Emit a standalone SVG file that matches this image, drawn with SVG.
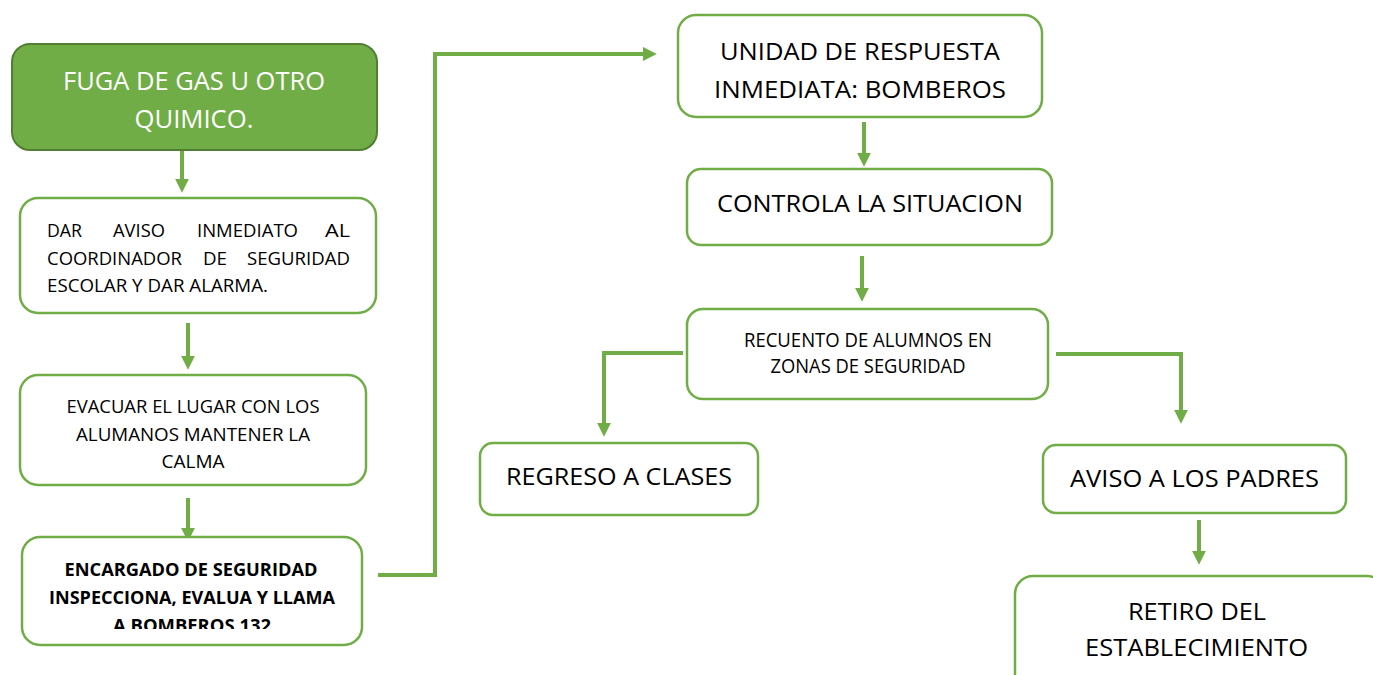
<svg xmlns="http://www.w3.org/2000/svg" width="1373" height="675" viewBox="0 0 1373 675">
<style>
.box{fill:#fff;stroke:#70AD47;stroke-width:2.5}
.main{fill:#70AD47;stroke:#507E32;stroke-width:2}
.t{font-family:"Open Sans","Liberation Sans",sans-serif;fill:#000;text-anchor:middle}
.tl{font-family:"Open Sans","Liberation Sans",sans-serif;fill:#000}
.w{fill:#fff}
.b{font-weight:bold}
.c{fill:none;stroke:#70AD47;stroke-width:4}
</style>
<defs>
<marker id="ah" viewBox="0 0 10 10" refX="3" refY="5" markerWidth="3.5" markerHeight="3.5" orient="auto">
<path d="M0,0 L10,5 L0,10 z" fill="#70AD47"/>
</marker>
<clipPath id="clip4"><rect x="0" y="530" width="400" height="99"/></clipPath>
</defs>
<rect width="1373" height="675" fill="#fff"/>
<g id="connectors">
<path class="c" d="M182,151 V183" marker-end="url(#ah)"/>
<path class="c" d="M188,323 V360" marker-end="url(#ah)"/>
<path class="c" d="M188,498 V532" marker-end="url(#ah)"/>
<path class="c" d="M378,575 H435 V54 H647" marker-end="url(#ah)"/>
<path class="c" d="M864,122 V157" marker-end="url(#ah)"/>
<path class="c" d="M862,256 V292" marker-end="url(#ah)"/>
<path class="c" d="M683,353 H604 V427" marker-end="url(#ah)"/>
<path class="c" d="M1056,354 H1181 V414" marker-end="url(#ah)"/>
<path class="c" d="M1199,520 V555" marker-end="url(#ah)"/>
</g>
<g id="n1">
<rect class="main" x="12" y="44" width="365" height="106" rx="18"/>
<text class="t w" font-size="26" x="194" y="90" textLength="262" lengthAdjust="spacingAndGlyphs">FUGA DE GAS U OTRO</text>
<text class="t w" font-size="26" x="194" y="128" textLength="119" lengthAdjust="spacingAndGlyphs">QUIMICO.</text>
</g>
<g id="n2">
<rect class="box" x="20" y="198" width="356" height="115" rx="18"/>
<g class="tl" font-size="18.5">
<text x="47" y="236.5" textLength="35" lengthAdjust="spacingAndGlyphs">DAR</text>
<text x="113" y="236.5" textLength="52" lengthAdjust="spacingAndGlyphs">AVISO</text>
<text x="197" y="236.5" textLength="101" lengthAdjust="spacingAndGlyphs">INMEDIATO</text>
<text x="325" y="236.5" textLength="25" lengthAdjust="spacingAndGlyphs">AL</text>
<text x="47" y="264.5" textLength="135" lengthAdjust="spacingAndGlyphs">COORDINADOR</text>
<text x="203" y="264.5" textLength="24" lengthAdjust="spacingAndGlyphs">DE</text>
<text x="247" y="264.5" textLength="103" lengthAdjust="spacingAndGlyphs">SEGURIDAD</text>
<text x="47" y="292" textLength="221" lengthAdjust="spacingAndGlyphs">ESCOLAR Y DAR ALARMA.</text>
</g>
</g>
<g id="n3">
<rect class="box" x="20" y="375" width="346" height="110" rx="18"/>
<text class="t" font-size="19" x="193" y="413" textLength="253" lengthAdjust="spacingAndGlyphs">EVACUAR EL LUGAR CON LOS</text>
<text class="t" font-size="19" x="193" y="441" textLength="234" lengthAdjust="spacingAndGlyphs">ALUMANOS MANTENER LA</text>
<text class="t" font-size="19" x="193" y="468" textLength="63" lengthAdjust="spacingAndGlyphs">CALMA</text>
</g>
<g id="n4">
<rect class="box" x="22" y="537" width="340" height="108" rx="18"/>
<g clip-path="url(#clip4)">
<text class="t b" font-size="18.5" x="191" y="576" textLength="253" lengthAdjust="spacingAndGlyphs">ENCARGADO DE SEGURIDAD</text>
<text class="t b" font-size="18.5" x="192" y="604" textLength="286" lengthAdjust="spacingAndGlyphs">INSPECCIONA, EVALUA Y LLAMA</text>
<text class="t b" font-size="18.5" x="192" y="632" textLength="158" lengthAdjust="spacingAndGlyphs">A BOMBEROS 132</text>
</g>
</g>
<g id="n5">
<rect class="box" x="678" y="15" width="364" height="102" rx="18"/>
<text class="t" font-size="24.5" x="860" y="60" textLength="280" lengthAdjust="spacingAndGlyphs">UNIDAD DE RESPUESTA</text>
<text class="t" font-size="24.5" x="860" y="98" textLength="292" lengthAdjust="spacingAndGlyphs">INMEDIATA: BOMBEROS</text>
</g>
<g id="n6">
<rect class="box" x="687" y="169" width="365" height="76" rx="14"/>
<text class="t" font-size="24.5" x="870" y="212" textLength="306" lengthAdjust="spacingAndGlyphs">CONTROLA LA SITUACION</text>
</g>
<g id="n7">
<rect class="box" x="687" y="309" width="361" height="90" rx="16"/>
<text class="t" font-size="19.5" x="868" y="347" textLength="248" lengthAdjust="spacingAndGlyphs">RECUENTO DE ALUMNOS EN</text>
<text class="t" font-size="19.5" x="868" y="373" textLength="195" lengthAdjust="spacingAndGlyphs">ZONAS DE SEGURIDAD</text>
</g>
<g id="n8">
<rect class="box" x="480" y="443" width="278" height="72" rx="13"/>
<text class="t" font-size="24.5" x="619" y="485" textLength="226" lengthAdjust="spacingAndGlyphs">REGRESO A CLASES</text>
</g>
<g id="n9">
<rect class="box" x="1043" y="445" width="303" height="68" rx="13"/>
<text class="t" font-size="24.5" x="1194.5" y="487" textLength="249" lengthAdjust="spacingAndGlyphs">AVISO A LOS PADRES</text>
</g>
<g id="n10">
<rect class="box" x="1015" y="576" width="370" height="120" rx="18"/>
<text class="t" font-size="24.5" x="1197" y="620" textLength="138" lengthAdjust="spacingAndGlyphs">RETIRO DEL</text>
<text class="t" font-size="24.5" x="1196.5" y="656" textLength="223" lengthAdjust="spacingAndGlyphs">ESTABLECIMIENTO</text>
</g>
</svg>
